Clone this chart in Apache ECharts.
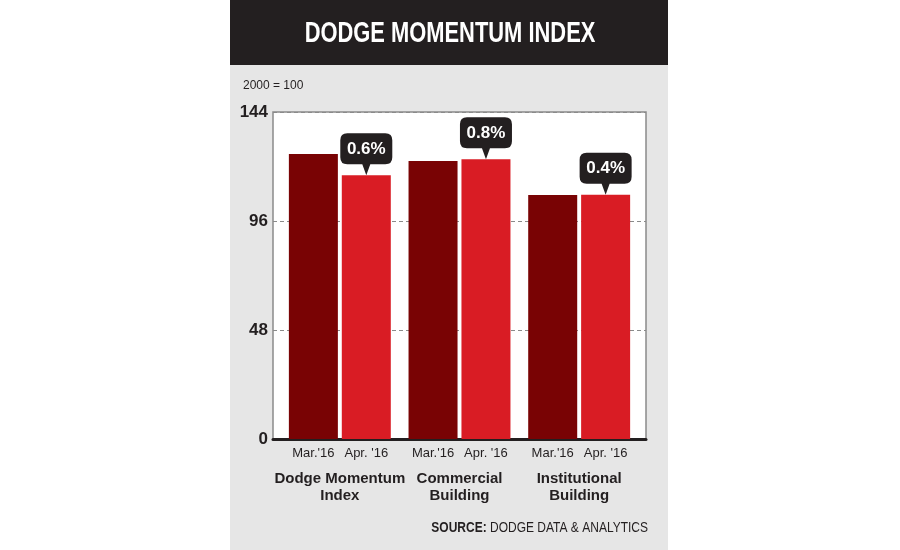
<!DOCTYPE html>
<html>
<head>
<meta charset="utf-8">
<script src="https://cdn.jsdelivr.net/npm/echarts@6/dist/echarts.min.js"></script>
<style>
  html, body { margin: 0; padding: 0; background: #fff; }
  #chart_box { width: 900px; height: 550px; }
</style>
</head>
<body>
<div id="chart_box"></div>
<script>
(function() {

    // data
    var categories = ['Dodge Momentum\nIndex', 'Commercial\nBuilding', 'Institutional\nBuilding'];
    var marValues = [125.5, 122.4, 107.4];
    var aprValues = [116.2, 123.2, 107.6];
    var changeLabels = ['0.6%', '0.8%', '0.4%'];
    var yTicks = [0, 48, 96, 144];

    var font = '"Liberation Sans", Arial, sans-serif';
    var callout = 'path://M7,0 H45 Q52,0 52,7 V24 Q52,31 45,31 H30 L26,42 L22,31 H7 Q0,31 0,24 V7 Q0,0 7,0 Z';

    var calloutData = [];
    for (var i = 0; i < categories.length; i++) {
        calloutData.push({ coord: [i, aprValues[i]], value: changeLabels[i] });
    }

    var myChart = echarts.init(document.getElementById('chart_box'));
    myChart.setOption({
        animation: false,
        textStyle: { fontFamily: font },
        graphic: [
            { type: 'rect', shape: { x: 230, y: 0, width: 438, height: 550 }, style: { fill: '#e6e6e6' }, z: -10 },
            { type: 'rect', shape: { x: 230, y: 0, width: 438, height: 65 }, style: { fill: '#231f20' }, z: -9 },
            {
                type: 'text', x: 450, y: 34, scaleX: 0.755,
                style: { text: 'DODGE MOMENTUM INDEX', fill: '#fff', font: 'bold 29px ' + font, align: 'center', verticalAlign: 'middle' }
            },
            {
                type: 'text', x: 243, y: 86,
                style: { text: '2000 = 100', fill: '#231f20', font: '12px ' + font, verticalAlign: 'middle' }
            },
            {
                type: 'text', x: 648, y: 528, scaleX: 0.8,
                style: {
                    text: '{b|SOURCE:} DODGE DATA & ANALYTICS',
                    fill: '#231f20', font: '15px ' + font, align: 'right', verticalAlign: 'middle',
                    rich: { b: { fontWeight: 'bold', fontSize: 15, fontFamily: font, fill: '#231f20' } }
                }
            }
        ],
        grid: [
            {
                // frame, gridlines, y labels
                left: 273,
                right: 254,
                top: 112,
                bottom: 111,
                show: true,
                backgroundColor: '#fff',
                borderColor: '#8a8a8a',
                borderWidth: 1.5
            },
            {
                // bars
                left: 280,
                right: 261,
                top: 112,
                bottom: 111
            }
        ],
        xAxis: [
            {
                type: 'category',
                gridIndex: 0,
                data: categories,
                axisLine: { show: true, lineStyle: { color: '#231f20', width: 3 } },
                axisTick: { show: false },
                axisLabel: { show: false }
            },
            {
                type: 'category',
                gridIndex: 1,
                data: categories,
                axisLine: { show: false },
                axisTick: { show: false },
                axisLabel: {
                    margin: 31,
                    fontFamily: font,
                    fontWeight: 'bold',
                    fontSize: 15,
                    lineHeight: 17,
                    color: '#231f20',
                    interval: 0
                }
            }
        ],
        yAxis: [
            {
                type: 'value',
                gridIndex: 0,
                min: yTicks[0],
                max: yTicks[yTicks.length - 1],
                interval: 48,
                axisLine: { show: false },
                axisTick: { show: false },
                axisLabel: {
                    margin: 5,
                    fontFamily: font,
                    fontWeight: 'bold',
                    fontSize: 17,
                    color: '#231f20'
                },
                splitLine: {
                    show: true,
                    lineStyle: { color: '#8a8a8a', type: [4, 3], width: 1 }
                }
            },
            {
                type: 'value',
                gridIndex: 1,
                min: yTicks[0],
                max: yTicks[yTicks.length - 1],
                interval: 48,
                axisLine: { show: false },
                axisTick: { show: false },
                axisLabel: { show: false },
                splitLine: { show: false }
            }
        ],
        series: [
            {
                name: "Mar.'16",
                type: 'bar',
                xAxisIndex: 1,
                yAxisIndex: 1,
                data: marValues,
                barWidth: 49,
                barGap: '8%',
                itemStyle: { color: '#790304' },
                label: {
                    show: true, position: 'bottom', distance: 8,
                    formatter: "Mar.'16",
                    fontFamily: font, fontSize: 13, color: '#231f20'
                }
            },
            {
                name: "Apr. '16",
                type: 'bar',
                xAxisIndex: 1,
                yAxisIndex: 1,
                data: aprValues,
                barWidth: 49,
                barGap: '8%',
                itemStyle: { color: '#d91c24' },
                label: {
                    show: true, position: 'bottom', distance: 8,
                    formatter: "Apr. '16",
                    fontFamily: font, fontSize: 13, color: '#231f20'
                },
                markPoint: {
                    symbol: callout,
                    symbolSize: [52, 42],
                    symbolOffset: [0, '-50%'],
                    symbolKeepAspect: false,
                    itemStyle: { color: '#231f20' },
                    label: {
                        show: true,
                        position: 'inside',
                        offset: [0, -5],
                        formatter: '{c}',
                        fontFamily: font,
                        fontWeight: 'bold',
                        fontSize: 17,
                        color: '#fff'
                    },
                    data: calloutData
                }
            }
        ]
    });
})();
</script>
</body>
</html>
